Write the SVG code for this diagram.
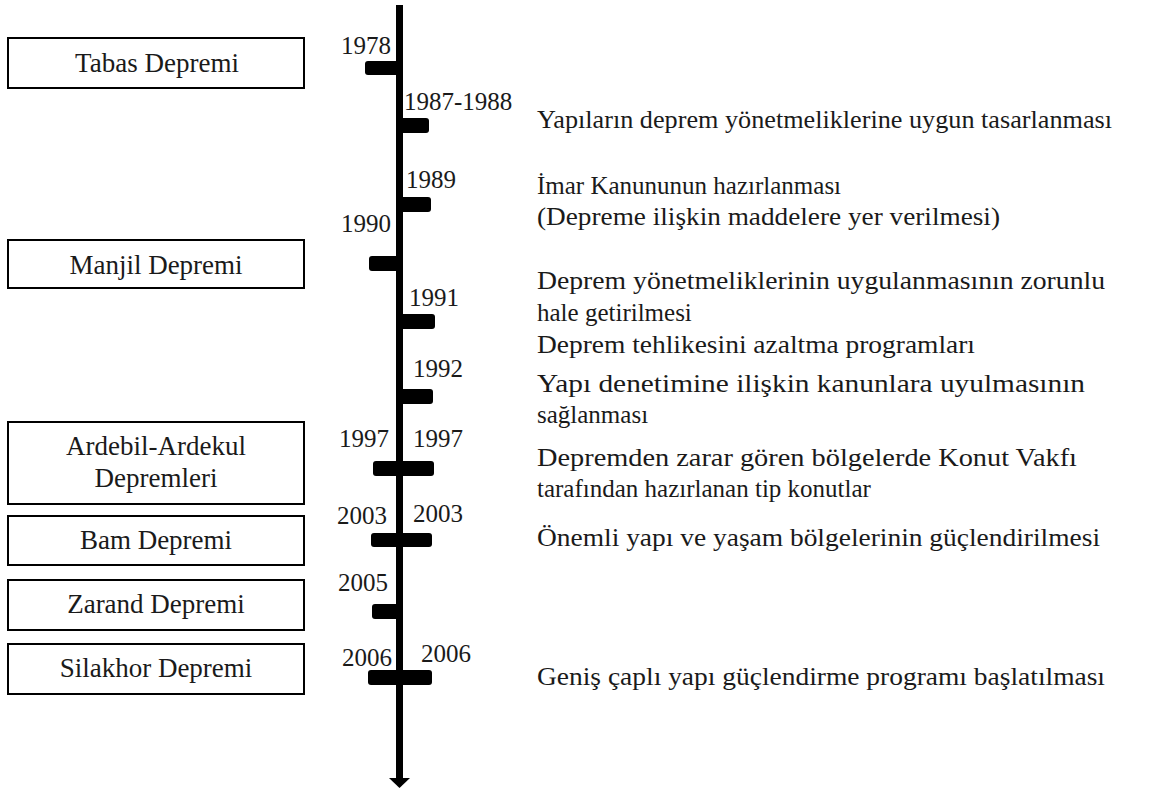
<svg xmlns="http://www.w3.org/2000/svg" width="1156" height="792" viewBox="0 0 1156 792">
  <defs>
    <style>
      .box { fill: #ffffff; stroke: #000000; stroke-width: 2; }
      .serif { font-family: "Liberation Serif", Tinos, "DejaVu Serif", "Noto Serif", serif; fill: #1a1a1a; }
      .lbl { font-size: 27px; text-anchor: middle; }
      .yr { font-size: 25px; }
      .desc { font-size: 25px; }
      .tick { fill: #000000; }
      .axis { stroke: #000000; stroke-width: 7; }
    </style>
  </defs>
  <rect width="1156" height="792" fill="#ffffff"/>

  <!-- timeline axis, arrow tip and year ticks -->
  <g id="connectors">
    <line class="axis" x1="399.5" y1="5" x2="399.5" y2="779"/>
    <path d="M389,778 L410,778 L399.5,788 Z" fill="#000000"/>
    <rect class="tick" x="365" y="61" width="35" height="14" rx="3"/>
    <rect class="tick" x="399" y="118" width="30" height="15" rx="3"/>
    <rect class="tick" x="399" y="197" width="32" height="15" rx="3"/>
    <rect class="tick" x="369" y="256" width="31" height="15" rx="3"/>
    <rect class="tick" x="399" y="314" width="36" height="15" rx="3"/>
    <rect class="tick" x="399" y="389" width="34" height="15" rx="3"/>
    <rect class="tick" x="373" y="461" width="61" height="15" rx="3"/>
    <rect class="tick" x="371" y="533" width="61" height="14" rx="3"/>
    <rect class="tick" x="372" y="604" width="28" height="15" rx="3"/>
    <rect class="tick" x="368" y="670" width="64" height="15" rx="3"/>
  </g>

  <!-- earthquake boxes -->
  <g id="tabas" class="serif">
    <rect class="box" x="8" y="38" width="296" height="50"/>
    <text class="lbl" x="157" y="72">Tabas Depremi</text>
  </g>
  <g id="manjil" class="serif">
    <rect class="box" x="8" y="240" width="296" height="48"/>
    <text class="lbl" x="156" y="274">Manjil Depremi</text>
  </g>
  <g id="ardebil" class="serif">
    <rect class="box" x="8" y="422" width="296" height="82"/>
    <text class="lbl" x="156" y="455">Ardebil-Ardekul</text>
    <text class="lbl" x="156" y="487">Depremleri</text>
  </g>
  <g id="bam" class="serif">
    <rect class="box" x="8" y="516" width="296" height="49"/>
    <text class="lbl" x="156" y="549">Bam Depremi</text>
  </g>
  <g id="zarand" class="serif">
    <rect class="box" x="8" y="580" width="296" height="50"/>
    <text class="lbl" x="156" y="613">Zarand Depremi</text>
  </g>
  <g id="silakhor" class="serif">
    <rect class="box" x="8" y="644" width="296" height="50"/>
    <text class="lbl" x="156" y="677">Silakhor Depremi</text>
  </g>

  <!-- year labels -->
  <g id="years" class="serif">
    <text class="yr" x="341" y="54">1978</text>
    <text class="yr" x="404" y="110">1987-1988</text>
    <text class="yr" x="406" y="188">1989</text>
    <text class="yr" x="341" y="232">1990</text>
    <text class="yr" x="409" y="306">1991</text>
    <text class="yr" x="413" y="377">1992</text>
    <text class="yr" x="339" y="447">1997</text>
    <text class="yr" x="413" y="447">1997</text>
    <text class="yr" x="337" y="524">2003</text>
    <text class="yr" x="413" y="522">2003</text>
    <text class="yr" x="338" y="591">2005</text>
    <text class="yr" x="342" y="666">2006</text>
    <text class="yr" x="421" y="662">2006</text>
  </g>

  <!-- measures taken -->
  <g id="measures" class="serif">
    <text class="desc" x="537" y="128" textLength="575" lengthAdjust="spacingAndGlyphs">Yapıların deprem yönetmeliklerine uygun tasarlanması</text>
    <text class="desc" x="537" y="194">İmar Kanununun hazırlanması</text>
    <text class="desc" x="537" y="225" textLength="463" lengthAdjust="spacingAndGlyphs">(Depreme ilişkin maddelere yer verilmesi)</text>
    <text class="desc" x="537" y="289" textLength="568" lengthAdjust="spacingAndGlyphs">Deprem yönetmeliklerinin uygulanmasının zorunlu</text>
    <text class="desc" x="537" y="321">hale getirilmesi</text>
    <text class="desc" x="537" y="353" textLength="438" lengthAdjust="spacingAndGlyphs">Deprem tehlikesini azaltma programları</text>
    <text class="desc" x="537" y="392" textLength="548" lengthAdjust="spacingAndGlyphs">Yapı denetimine ilişkin kanunlara uyulmasının</text>
    <text class="desc" x="537" y="423">sağlanması</text>
    <text class="desc" x="537" y="466" textLength="540" lengthAdjust="spacingAndGlyphs">Depremden zarar gören bölgelerde Konut Vakfı</text>
    <text class="desc" x="537" y="497">tarafından hazırlanan tip konutlar</text>
    <text class="desc" x="537" y="546" textLength="563" lengthAdjust="spacingAndGlyphs">Önemli yapı ve yaşam bölgelerinin güçlendirilmesi</text>
    <text class="desc" x="537" y="685" textLength="568" lengthAdjust="spacingAndGlyphs">Geniş çaplı yapı güçlendirme programı başlatılması</text>
  </g>
</svg>
